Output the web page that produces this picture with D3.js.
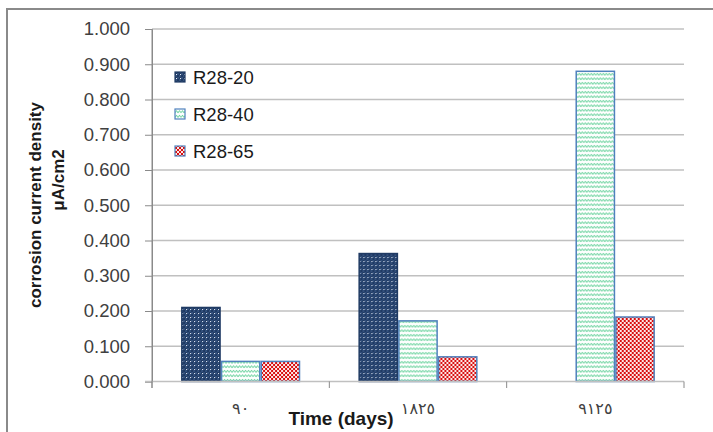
<!DOCTYPE html>
<html>
<head>
<meta charset="utf-8">
<script src="https://cdn.jsdelivr.net/npm/d3@7"></script>
<style>
  html, body { margin: 0; padding: 0; background: #fff; }
  svg { display: block; }
</style>
</head>
<body>
<svg id="chart" width="713" height="432"></svg>
<script>
// Time periods (Eastern Arabic numerals as labelled on the axis)
const categories = ["٩٠", "١٨٢٥", "٩١٢٥"];
const seriesNames = ["R28-20", "R28-40", "R28-65"];
const r28_20 = [0.210, 0.363, 0];
const r28_40 = [0.057, 0.172, 0.880];
const r28_65 = [0.057, 0.070, 0.183];
const yTicks = [0, 0.1, 0.2, 0.3, 0.4, 0.5, 0.6, 0.7, 0.8, 0.9, 1.0];

const seriesValues = [r28_20, r28_40, r28_65];

const svg = d3.select("#chart");
const W = 713, H = 432;
const plot = { left: 152, right: 684, top: 29, bottom: 381.5 };
const font = "'Liberation Sans', Arial, sans-serif";

// Outer chart frame
svg.append("rect")
  .attr("x", 7).attr("y", 9).attr("width", W + 10).attr("height", H + 10)
  .attr("fill", "#fff").attr("stroke", "#8a8a8a").attr("stroke-width", 2);

// Fill patterns
const defs = svg.append("defs");

const p1 = defs.append("pattern").attr("id", "pat-dots")
  .attr("patternUnits", "userSpaceOnUse").attr("width", 4).attr("height", 4);
p1.append("rect").attr("width", 4).attr("height", 4).attr("fill", "#1f3a63");
p1.append("rect").attr("x", 2).attr("y", 0).attr("width", 2).attr("height", 2).attr("fill", "#33507c");
p1.append("rect").attr("x", 0).attr("y", 2).attr("width", 2).attr("height", 2).attr("fill", "#33507c");
p1.append("rect").attr("x", 1).attr("y", 1).attr("width", 1).attr("height", 1).attr("fill", "#e8eef8");

const p2 = defs.append("pattern").attr("id", "pat-wave")
  .attr("patternUnits", "userSpaceOnUse").attr("width", 6).attr("height", 4.5);
p2.append("rect").attr("width", 6).attr("height", 4.5).attr("fill", "#ffffff");
p2.append("path").attr("d", "M0,3.4 L1.5,1.2 L3,3.4 L4.5,1.2 L6,3.4")
  .attr("fill", "none").attr("stroke", "#34c27a").attr("stroke-width", 0.8);

const p3 = defs.append("pattern").attr("id", "pat-check")
  .attr("patternUnits", "userSpaceOnUse").attr("width", 4).attr("height", 4);
p3.append("rect").attr("width", 4).attr("height", 4).attr("fill", "#fbe8e8");
p3.append("rect").attr("x", 0).attr("y", 0).attr("width", 2).attr("height", 2).attr("fill", "#d90f0f");
p3.append("rect").attr("x", 2).attr("y", 2).attr("width", 2).attr("height", 2).attr("fill", "#d90f0f");

const fills = ["url(#pat-dots)", "url(#pat-wave)", "url(#pat-check)"];
const strokes = ["#1f3a63", "#4f81bd", "#4f81bd"];

// Scales
const x0 = d3.scaleBand().domain(categories).range([plot.left, plot.right])
  .paddingInner(0.328).paddingOuter(0.164);
const x1 = d3.scaleBand().domain(seriesNames).range([0, x0.bandwidth()]);
const y = d3.scaleLinear().domain([0, 1]).range([plot.bottom, plot.top]);

// Gridlines
svg.append("g").selectAll("line").data(yTicks.slice(1)).join("line")
  .attr("x1", plot.left).attr("x2", plot.right)
  .attr("y1", d => y(d)).attr("y2", d => y(d))
  .attr("stroke", "#c0c0c0").attr("stroke-width", 1.5);

// Y axis
const yAxis = svg.append("g").attr("transform", `translate(${plot.left},0)`)
  .call(d3.axisLeft(y).tickValues(yTicks).tickFormat(d3.format(".3f")).tickSize(7).tickPadding(15));
yAxis.select(".domain").attr("stroke", "#8a8a8a");
yAxis.selectAll(".tick line").attr("stroke", "#8a8a8a");
yAxis.selectAll("text").attr("font-family", font).attr("font-size", 18.5).attr("fill", "#404040");

// Bars
const groups = svg.append("g").selectAll("g").data(categories).join("g")
  .attr("transform", d => `translate(${x0(d)},0)`);
groups.selectAll("rect")
  .data((c, ci) => seriesNames.map((s, si) => ({ s, si, v: seriesValues[si][ci] })))
  .join("rect")
  .filter(d => d.v > 0)
  .attr("x", d => x1(d.s) + 0.75)
  .attr("width", x1.bandwidth() - 1.5)
  .attr("y", d => y(d.v))
  .attr("height", d => y(0) - y(d.v))
  .attr("fill", d => fills[d.si])
  .attr("stroke", d => strokes[d.si])
  .attr("stroke-width", 1.5);

// X axis line with category tick marks
const xAxisG = svg.append("g");
xAxisG.append("line")
  .attr("x1", plot.left - 7).attr("x2", plot.right)
  .attr("y1", y(0)).attr("y2", y(0))
  .attr("stroke", "#c0c0c0").attr("stroke-width", 1.5);
const boundaries = categories.map(c => x0(c) - x0.step() * x0.paddingInner() / 2)
  .concat([plot.right]);
xAxisG.selectAll("line.tk").data(boundaries).join("line").attr("class", "tk")
  .attr("x1", d => d).attr("x2", d => d)
  .attr("y1", y(0)).attr("y2", y(0) + 6.5)
  .attr("stroke", "#8a8a8a").attr("stroke-width", 1);
svg.append("line")
  .attr("x1", plot.left).attr("x2", plot.left)
  .attr("y1", plot.top).attr("y2", y(0) + 6.5)
  .attr("stroke", "#8a8a8a");

xAxisG.selectAll("text").data(categories).join("text")
  .attr("x", d => x0(d) + x0.bandwidth() / 2)
  .attr("y", 414)
  .attr("text-anchor", "middle")
  .attr("font-family", "'DejaVu Sans', sans-serif")
  .attr("font-size", 16)
  .attr("letter-spacing", 3)
  .attr("fill", "#404040")
  .text(d => d);

// Axis titles
svg.append("text")
  .attr("x", 341).attr("y", 425)
  .attr("text-anchor", "middle")
  .attr("font-family", font).attr("font-weight", "bold").attr("font-size", 19)
  .attr("fill", "#1a1a1a")
  .text("Time (days)");

svg.append("text")
  .attr("transform", "translate(41,205) rotate(-90)")
  .attr("text-anchor", "middle")
  .attr("font-family", font).attr("font-weight", "bold").attr("font-size", 17)
  .attr("fill", "#1a1a1a")
  .text("corrosion current density");
svg.append("text")
  .attr("transform", "translate(64,180) rotate(-90)")
  .attr("text-anchor", "middle")
  .attr("font-family", font).attr("font-weight", "bold").attr("font-size", 17)
  .attr("fill", "#1a1a1a")
  .text("μA/cm2");

// Legend
const legend = svg.append("g").selectAll("g").data(seriesNames).join("g")
  .attr("transform", (d, i) => `translate(175,${77 + i * 37})`);
legend.append("rect")
  .attr("x", 0).attr("y", -5).attr("width", 10).attr("height", 10)
  .attr("fill", (d, i) => fills[i])
  .attr("stroke", (d, i) => strokes[i]).attr("stroke-width", 1.2);
legend.append("text")
  .attr("x", 18).attr("y", 6.5)
  .attr("font-family", font).attr("font-size", 18.5).attr("fill", "#1a1a1a")
  .text(d => d);
</script>
</body>
</html>
